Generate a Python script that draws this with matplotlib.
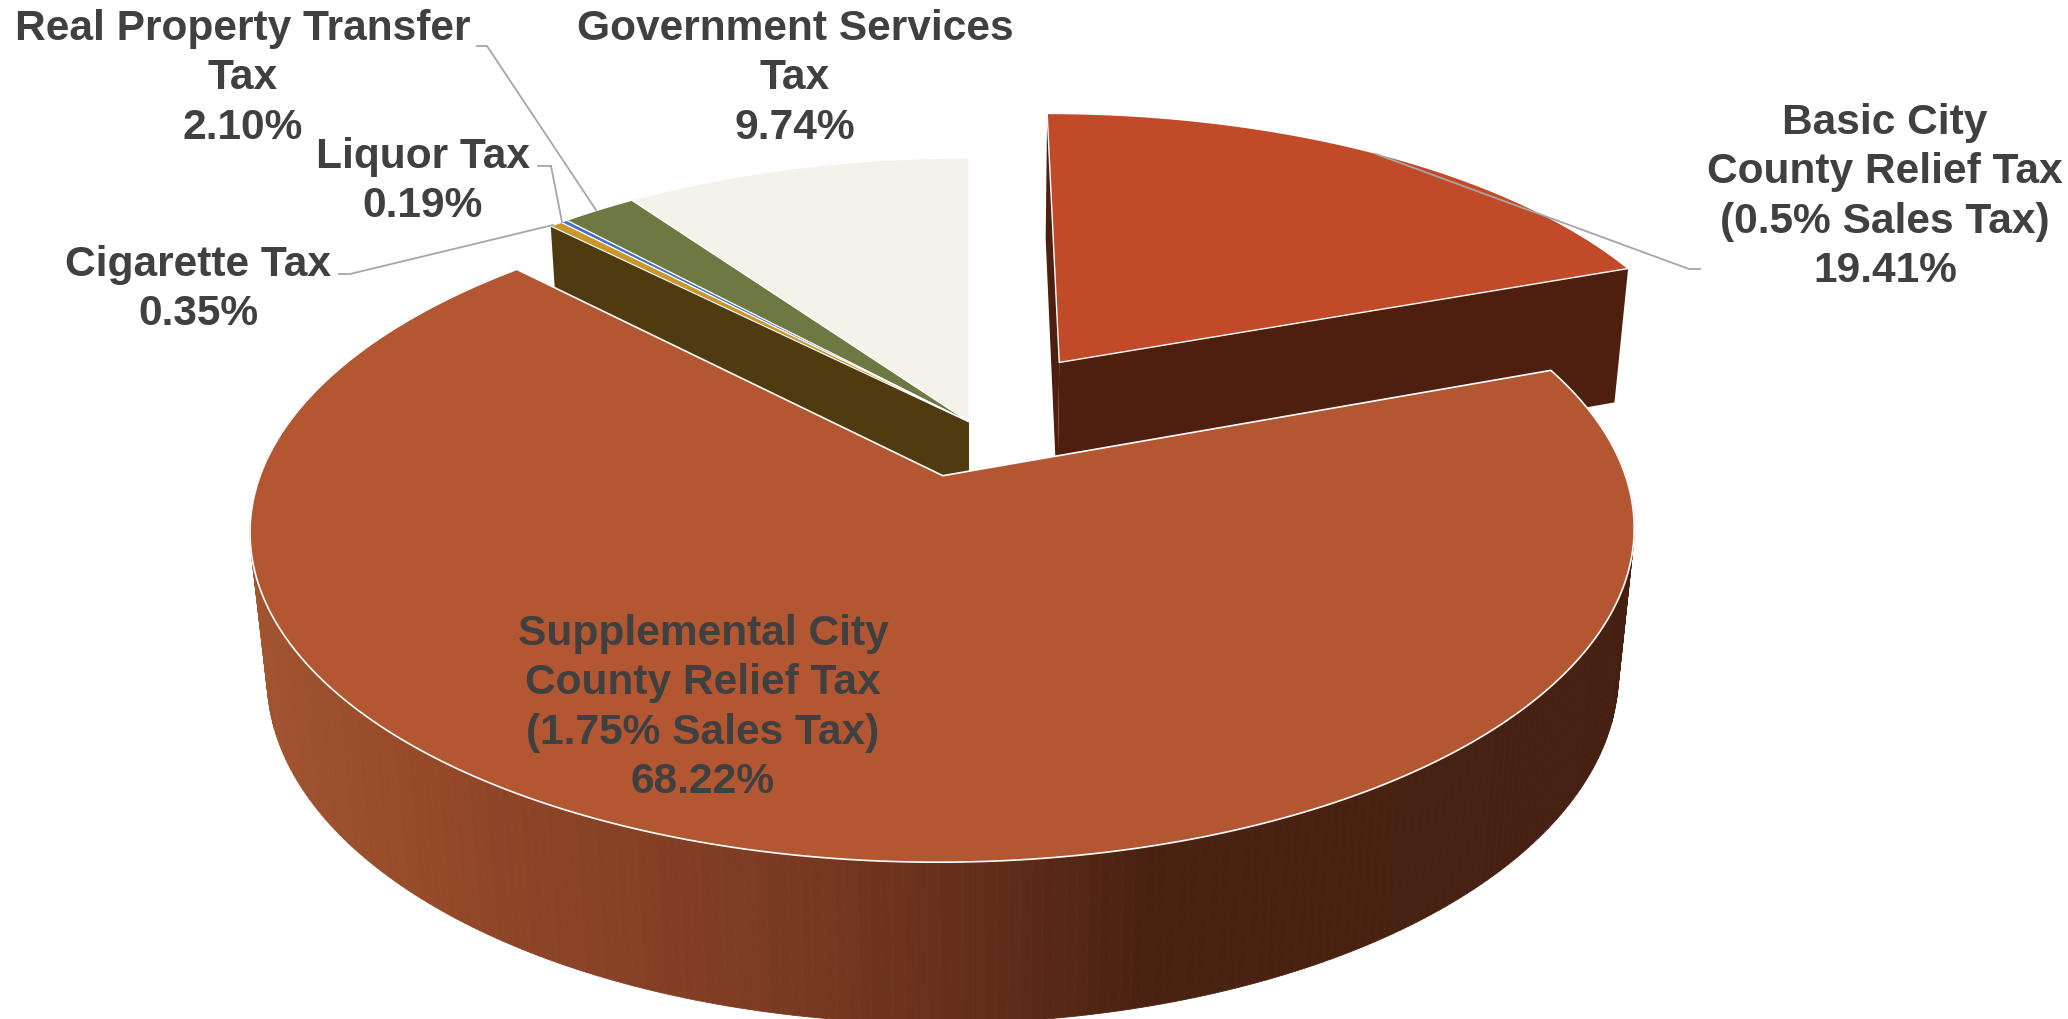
import numpy as np
import matplotlib
matplotlib.use("Agg")
import matplotlib.pyplot as plt
from matplotlib.collections import PolyCollection
from matplotlib.colors import LinearSegmentedColormap
from matplotlib.patches import Polygon

plt.rcParams["font.family"] = ["Liberation Sans", "DejaVu Sans"]

# Tax shares, clockwise from 12 o'clock
names = [
    ["Basic City", "County Relief Tax", "(0.5% Sales Tax)"],
    ["Supplemental City", "County Relief Tax", "(1.75% Sales Tax)"],
    ["Cigarette Tax"],
    ["Liquor Tax"],
    ["Real Property Transfer", "Tax"],
    ["Government Services", "Tax"],
]
values = [19.41, 68.22, 0.35, 0.19, 2.10, 9.74]
top_colors = ["#c14b28", "#b25732", "#c8962a", "#4472c4", "#6e7842", "#f5f2ea"]
side_colors = ["#4e1e0e", "#4a2212", "#503a10", "#2a4478", "#424828", "#b0ada5"]
explode = [0.245, 0.175, 0, 0, 0, 0]

# Label placement: centre x, first baseline
label_pos = [(1885, 134), (703, 645), (198, 276), (423, 168), (243, 40), (795, 40)]
leaders = [
    [(1376, 155), (1689, 270), (1700, 270)],
    None,
    [(553, 226), (350, 275), (339, 275)],
    [(562, 223), (551, 167), (538, 167)],
    [(596, 211), (487, 47), (477, 47)],
    None,
]

# Camera: pie plane to pixel coordinates
CX, CY = 969, 423
SX, SY = 664, 306
PERSP_X, PERSP_Y = 0.16, 0.159
DEPTH_W, DEPTH_Y = 0.023, 145


def project(x, y, low=0.0):
    # low=1 gives the underside of the disc
    ux = 1 + PERSP_X * y + DEPTH_W * low
    uy = 1 + PERSP_Y * y + DEPTH_W * low
    return CX + SX * x / ux, CY - (SY * y - DEPTH_Y * low) / uy


fractions = np.array(values) / sum(values)
edges = np.concatenate([[0], np.cumsum(fractions)]) * 2 * np.pi


def offset(i):
    mid = (edges[i] + edges[i + 1]) / 2
    return explode[i] * np.sin(mid), explode[i] * np.cos(mid)


def rim(i, low=0.0):
    ox, oy = offset(i)
    t = np.linspace(edges[i], edges[i + 1], 300)
    sx, sy = project(ox + np.sin(t), oy + np.cos(t), low)
    return np.column_stack([sx, sy])


def apex(i, low=0.0):
    ox, oy = offset(i)
    return np.array([project(ox, oy, low)])


def top_face(i, edge="white", lw=1.0, z=2):
    pts = np.vstack([apex(i), rim(i)])
    ax.add_patch(Polygon(pts, closed=True, facecolor=top_colors[i],
                         edgecolor=edge, linewidth=lw, joinstyle="round", zorder=z))


def radial_face(i, which, z=2):
    # which: 0 for the starting cut, -1 for the closing cut
    pts = np.vstack([apex(i), rim(i)[[which]], rim(i, 1)[[which]], apex(i, 1)])
    ax.add_patch(Polygon(pts, closed=True, facecolor=side_colors[i],
                         edgecolor="none", zorder=z))


fig = plt.figure(figsize=(20.68, 10.2), dpi=100, facecolor="white")
ax = fig.add_axes([0, 0, 1, 1])

# Back slices first, the large slice goes on top of everything
for i in [5, 4, 3]:
    top_face(i, edge="white", lw=0.8, z=2)
radial_face(2, 0, z=3)
top_face(2, edge="white", lw=0.8, z=3)

radial_face(0, 0, z=4)
radial_face(0, -1, z=4)
top_face(0, lw=1.0, z=5)

# Outer wall of the large slice, thin quads shaded from left to right
shade_stops = [(0.0, "#a2542f"), (0.17, "#904627"), (0.39, "#7a3a22"),
               (0.55, "#5e2b18"), (0.64, "#4a2212"), (1.0, "#452010")]
shade = LinearSegmentedColormap.from_list("wall", shade_stops)
upper, lower = rim(1), rim(1, 1)
quads = [np.vstack([upper[k], upper[k + 1], lower[k + 1], lower[k]])
         for k in range(len(upper) - 1)]
quad_colors = [shade((q[:, 0].mean() - 250) / 1390) for q in quads]
ax.add_collection(PolyCollection(quads, facecolors=quad_colors, edgecolors=quad_colors,
                                 linewidths=0.6, zorder=6))
top_face(1, lw=1.2, z=7)

# Leader lines
for line in leaders:
    if line is not None:
        xs, ys = zip(*line)
        ax.plot(xs, ys, color="#a6a6a6", lw=1.3, zorder=8, solid_joinstyle="miter")

# Data labels
for i, (cx, base) in enumerate(label_pos):
    lines = names[i] + [f"{values[i]:.2f}%"]
    for n, text in enumerate(lines):
        ax.text(cx, base + n * 49.3, text, ha="center", va="baseline", fontsize=30.6,
                fontweight="bold", color="#404040", zorder=9)

ax.set_xlim(0, 2068)
ax.set_ylim(1020, 0)
ax.axis("off")
fig.savefig("out.png", dpi=100, facecolor="white")
